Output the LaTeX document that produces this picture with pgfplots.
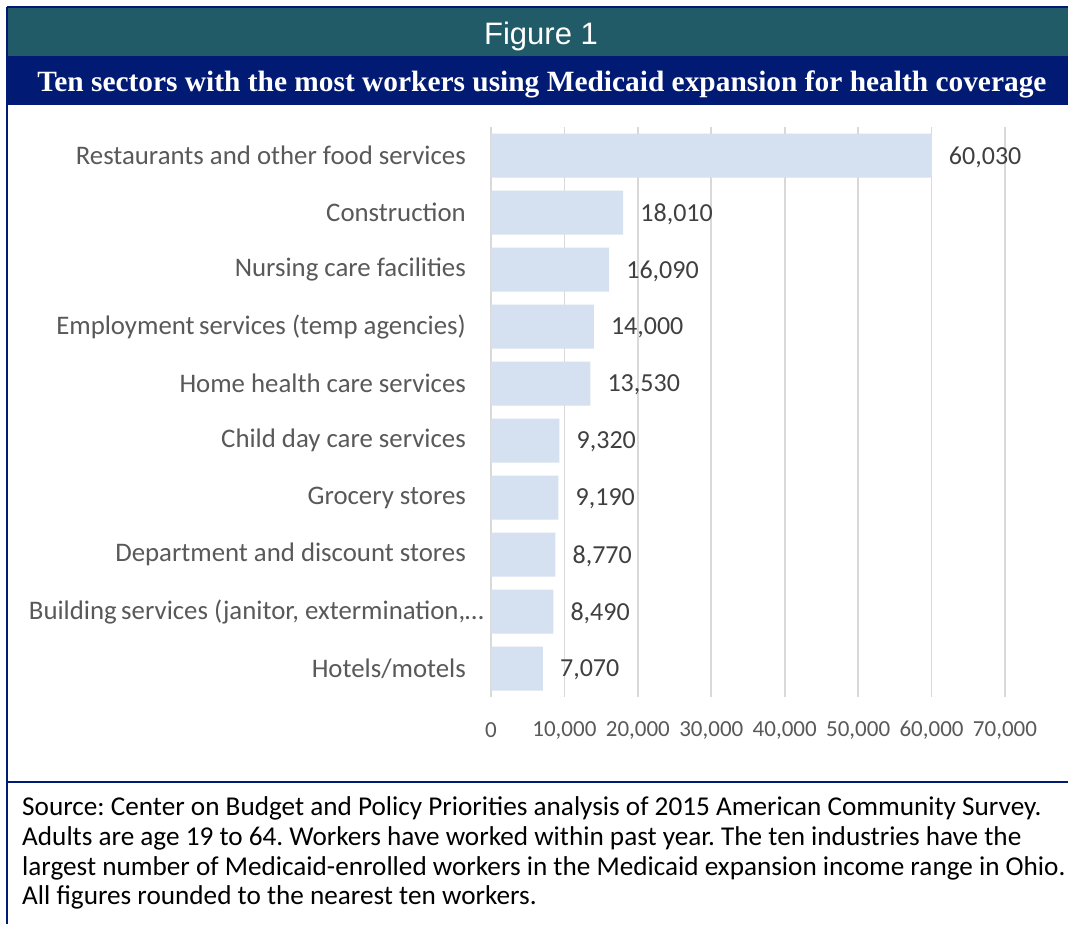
\documentclass[border=0pt]{standalone}
\usepackage{pgfplots}
\pgfplotsset{compat=1.18}
\usepackage{fontspec}
\setmainfont{Carlito}
\newfontfamily\arialfont{Liberation Sans}
\newfontfamily\timesfont{Liberation Serif}
\definecolor{teal1}{HTML}{215B67}
\definecolor{navy1}{HTML}{011A73}
\definecolor{barc}{HTML}{D5E0F0}
\definecolor{gridc}{HTML}{D9D9D9}
\definecolor{labc}{HTML}{595959}
\definecolor{numc}{HTML}{404040}
\frenchspacing
\begin{document}
\begin{tikzpicture}[x=1pt,y=1pt]
\path[use as bounding box, fill=white] (0,0) rectangle (1068,-924);
\fill[teal1] (7,-8) rectangle (1068,-56);
\fill[navy1] (7,-56) rectangle (1068,-105);
\draw[navy1, line width=2pt] (7,-7) -- (1068,-7);
\draw[navy1, line width=2pt] (7,-7) -- (7,-924);
\draw[navy1, line width=2pt] (7,-782) -- (1068,-782);
\node[text=white, font=\arialfont\fontsize{31}{37}\selectfont] at (541,-36) {Figure 1};
\node[text=white, font=\timesfont\bfseries\fontsize{29.4}{34}\selectfont] at (542,-84) {Ten sectors with the most workers using Medicaid expansion for health coverage};
\begin{axis}[
  at={(491pt,-697pt)}, anchor=south west,
  scale only axis, width=514pt, height=570pt,
  xbar, bar width=44pt,
  xmin=0, xmax=70000, ymin=-0.5, ymax=9.5, y dir=reverse,
  ytick={0,...,9},
  yticklabels={Restaurants and other food services, Construction, Nursing care facilities, Employment\,services (temp agencies), Home health care services, Child day care services, Grocery stores, Department and discount stores, {Building\,services (janitor, extermination,…\kern-18pt\relax}, Hotels/motels},
  xtick={0,10000,...,70000},
  scaled ticks=false,
  /pgf/number format/assume math mode=true,
  /pgf/number format/1000 sep={,},
  axis line style={draw=none},
  major tick length=0pt,
  xmajorgrids, grid style={draw=gridc, line width=1.6pt},
  yticklabel style={font=\fontsize{26.8}{31}\selectfont, text=labc, anchor=east, inner sep=0pt, xshift=-25pt},
  xticklabel style={font=\fontsize{23}{27}\selectfont, text=labc, anchor=center, yshift=-33pt},
  nodes near coords,
  nodes near coords align={horizontal},
  every node near coord/.append style={anchor=west, inner sep=0pt, xshift=17pt, yshift=-1.5pt, font=\fontsize{26}{30}\selectfont, text=numc},
  clip=false,
]
\addplot[fill=barc, draw=none] coordinates {
(60030,0) (18010,1) (16090,2) (14000,3) (13530,4) (9320,5) (9190,6) (8770,7) (8490,8) (7070,9)};
\end{axis}
\begin{scope}[every node/.style={anchor=base west, inner sep=0pt, font=\fontsize{27.2}{32}\selectfont, text=black}]
\node at (22,-815) {Source: Center on Budget and Policy Priorities analysis of 2015 American Community Survey.};
\node at (22,-845) {Adults are age 19 to 64. Workers have worked within past year. The ten industries have the};
\node at (22,-875) {largest number of Medicaid-enrolled workers in the Medicaid expansion income range in Ohio.};
\node at (22,-904) {All figures rounded to the nearest ten workers.};
\end{scope}
\end{tikzpicture}
\end{document}
